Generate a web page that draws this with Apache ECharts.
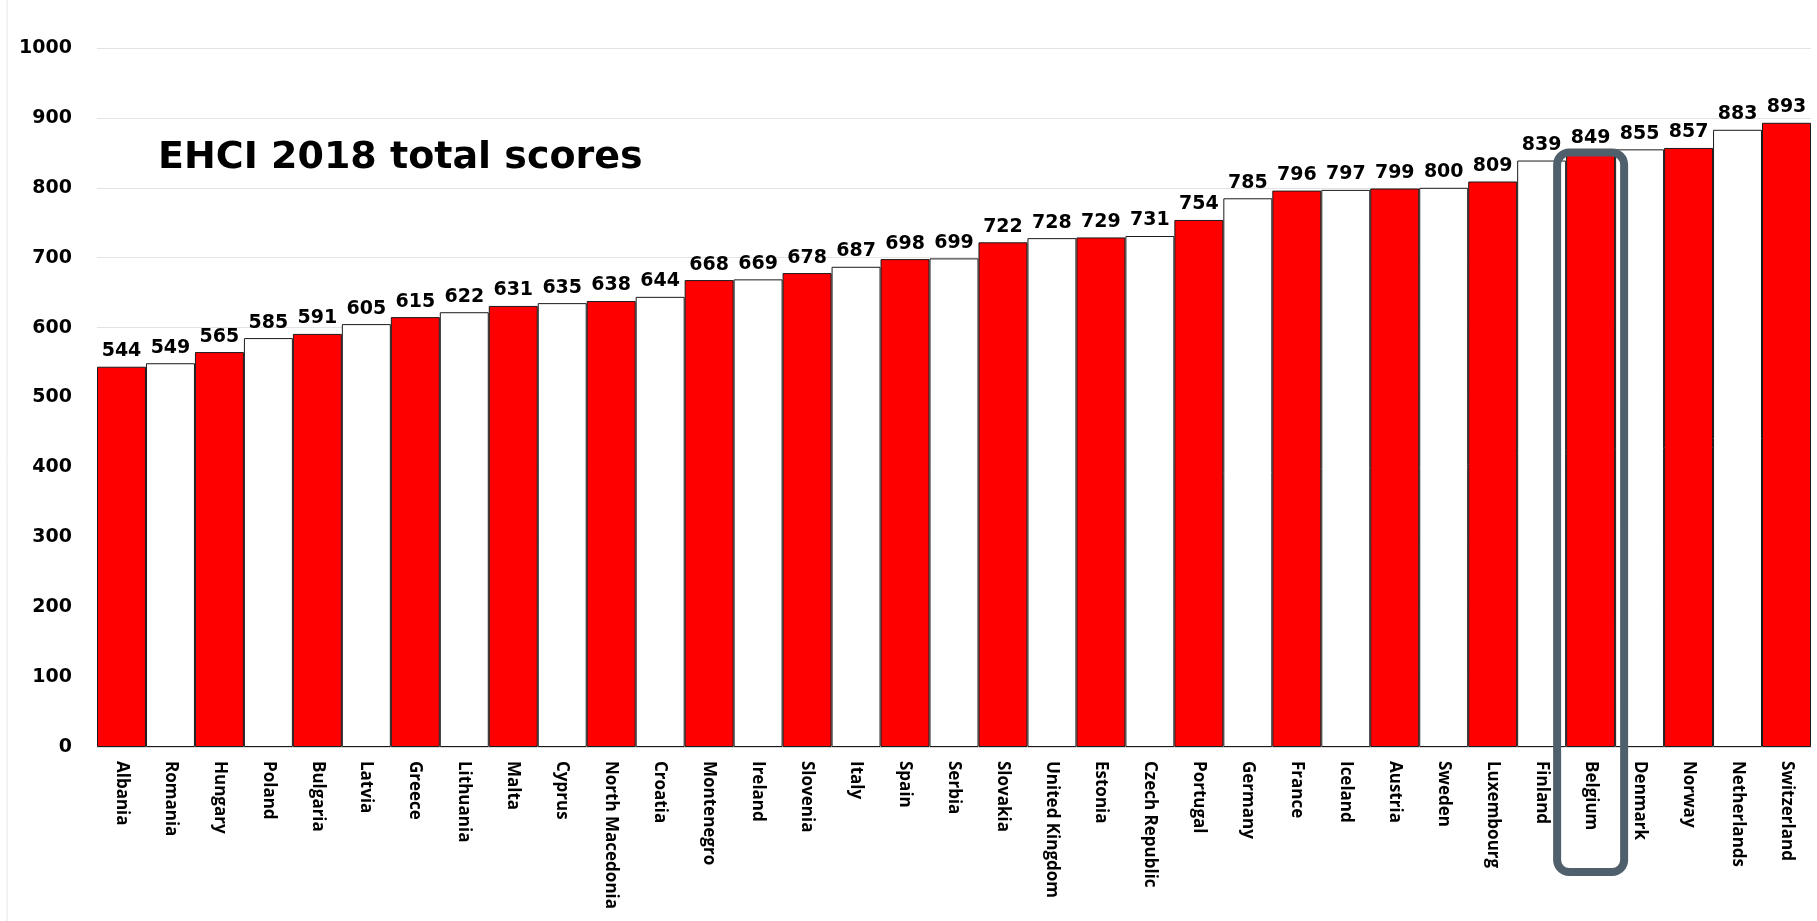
<!DOCTYPE html>
<html>
<head>
<meta charset="utf-8">
<script src="https://cdn.jsdelivr.net/npm/echarts@6/dist/echarts.min.js"></script>
<style>
html, body { margin: 0; padding: 0; background: #fff; }
#chart { width: 1817px; height: 921px; }
</style>
</head>
<body>
<div id="chart"></div>
<script>
var countries = ['Albania', 'Romania', 'Hungary', 'Poland', 'Bulgaria', 'Latvia', 'Greece', 'Lithuania',
    'Malta', 'Cyprus', 'North Macedonia', 'Croatia', 'Montenegro', 'Ireland', 'Slovenia', 'Italy',
    'Spain', 'Serbia', 'Slovakia', 'United Kingdom', 'Estonia', 'Czech Republic', 'Portugal', 'Germany',
    'France', 'Iceland', 'Austria', 'Sweden', 'Luxembourg', 'Finland', 'Belgium', 'Denmark',
    'Norway', 'Netherlands', 'Switzerland'];
var scores = [544, 549, 565, 585, 591, 605, 615, 622, 631, 635, 638, 644, 668, 669, 678, 687,
    698, 699, 722, 728, 729, 731, 754, 785, 796, 797, 799, 800, 809, 839, 849, 855,
    857, 883, 893];
var highlighted = 'Belgium';

var chart = echarts.init(document.getElementById('chart'));

// alternate red / white bars
var barData = scores.map(function (v, i) {
    return {
        value: v,
        itemStyle: { color: i % 2 === 0 ? '#ff0000' : '#ffffff' }
    };
});

var option = {
    animation: false,
    backgroundColor: '#fff',
    title: {
        text: 'EHCI 2018 total scores',
        left: 153,
        top: 134,
        textStyle: {
            fontFamily: 'DejaVu Sans',
            fontWeight: 'bold',
            fontSize: 38,
            color: '#000'
        }
    },
    grid: {
        left: 97,
        right: 6,
        top: 48,
        bottom: 174
    },
    xAxis: {
        type: 'category',
        data: countries,
        axisTick: { show: false },
        axisLine: { lineStyle: { color: '#d9d9d9', width: 1 } },
        axisLabel: {
            rotate: -90,
            interval: 0,
            margin: 14,
            color: '#000',
            fontFamily: 'Open Sans',
            fontWeight: 'bold',
            fontSize: 17
        }
    },
    yAxis: {
        type: 'value',
        min: 0,
        max: 1000,
        interval: 100,
        axisLine: { show: false },
        axisTick: { show: false },
        splitLine: { lineStyle: { color: '#e3e3e3', width: 1 } },
        axisLabel: {
            margin: 25,
            color: '#000',
            fontFamily: 'DejaVu Sans',
            fontWeight: 'bold',
            fontSize: 19,
            formatter: function (v) { return String(v); }
        }
    },
    series: [{
        type: 'bar',
        data: barData,
        barCategoryGap: 0,
        itemStyle: {
            borderColor: '#1a1a1a',
            borderWidth: 1
        },
        label: {
            show: true,
            position: 'top',
            distance: 6,
            color: '#000',
            fontFamily: 'DejaVu Sans',
            fontWeight: 'bold',
            fontSize: 19
        }
    }]
};
chart.setOption(option);

// rounded box around the highlighted country, placed from the axis scales
var idx = countries.indexOf(highlighted);
var topPt = chart.convertToPixel({ seriesIndex: 0 }, [highlighted, scores[idx]]);
var basePt = chart.convertToPixel({ seriesIndex: 0 }, [highlighted, 0]);
var boxW = 67;
chart.setOption({
    graphic: [
        {
            type: 'rect',
            shape: { x: topPt[0] - boxW / 2, y: topPt[1] - 1, width: boxW, height: basePt[1] + 126 - topPt[1], r: 12 },
            style: { fill: null, stroke: '#4f5f6b', lineWidth: 8 },
            z: 100
        },
        {
            type: 'line',
            shape: { x1: 7, y1: 0, x2: 7, y2: 921 },
            style: { stroke: '#e6e6e6', lineWidth: 1 }
        }
    ]
});
</script>
</body>
</html>
